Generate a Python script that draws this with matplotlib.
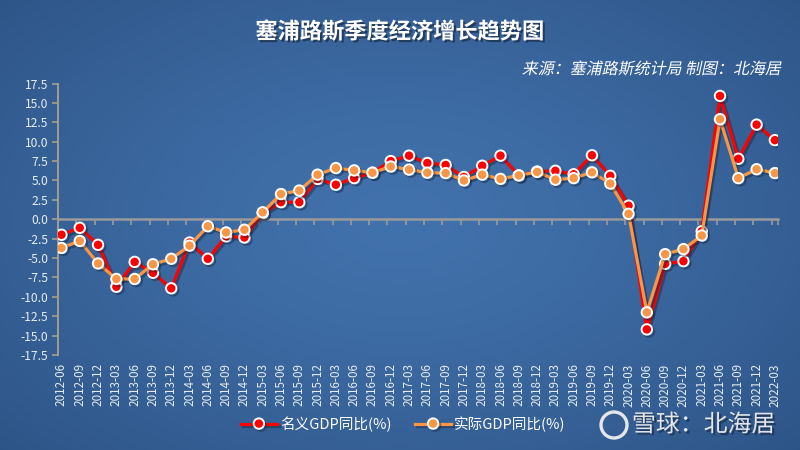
import numpy as np
import matplotlib
matplotlib.use('Agg')
import matplotlib.pyplot as plt
import matplotlib.patheffects as pe
from matplotlib.patches import Ellipse, PathPatch
from matplotlib.textpath import TextPath
from matplotlib.font_manager import FontProperties
from matplotlib.transforms import Affine2D

plt.rcParams['font.family'] = ['Noto Sans CJK SC', 'DejaVu Sans']

quarters = ['2012-06', '2012-09', '2012-12', '2013-03', '2013-06', '2013-09', '2013-12',
            '2014-03', '2014-06', '2014-09', '2014-12', '2015-03', '2015-06', '2015-09',
            '2015-12', '2016-03', '2016-06', '2016-09', '2016-12', '2017-03', '2017-06',
            '2017-09', '2017-12', '2018-03', '2018-06', '2018-09', '2018-12', '2019-03',
            '2019-06', '2019-09', '2019-12', '2020-03', '2020-06', '2020-09', '2020-12',
            '2021-03', '2021-06', '2021-09', '2021-12', '2022-03']
nominal = [-2.0, -1.1, -3.3, -8.7, -5.5, -6.9, -8.9, -3.0, -5.1, -2.2, -2.35, 0.8,
           2.2, 2.2, 5.2, 4.45, 5.3, 6.0, 7.5, 8.2, 7.25, 7.0, 5.45, 6.9, 8.2, 5.65,
           6.15, 6.25, 5.8, 8.25, 5.6, 1.75, -14.2, -5.75, -5.4, -1.55, 15.9, 7.8, 12.2, 10.2]
real = [-3.7, -2.8, -5.7, -7.7, -7.7, -5.8, -5.1, -3.4, -0.9, -1.7, -1.35, 0.9,
        3.25, 3.7, 5.75, 6.6, 6.3, 6.0, 6.8, 6.4, 6.0, 5.95, 5.0, 5.75, 5.2, 5.65,
        6.1, 5.1, 5.3, 6.05, 4.6, 0.7, -12.0, -4.5, -3.85, -2.1, 12.9, 5.3, 6.45, 5.95]
yticks = [-17.5, -15.0, -12.5, -10.0, -7.5, -5.0, -2.5, 0.0, 2.5, 5.0, 7.5, 10.0, 12.5, 15.0, 17.5]
series_labels = ['名义GDP同比(%)', '实际GDP同比(%)']
title = '塞浦路斯季度经济增长趋势图'
subtitle = '来源：塞浦路斯统计局 制图：北海居'
watermark = '雪球：北海居'

fig = plt.figure(figsize=(8, 4.5), dpi=100)

# background radial gradient
bg = fig.add_axes([0, 0, 1, 1], zorder=0)
H, W = 450, 800
yy, xx = np.mgrid[0:H, 0:W]
d = np.sqrt(((xx - 400) / 560) ** 2 + ((yy - 220) / 340) ** 2)
d = np.clip(d, 0, 1) ** 1.3
c0 = np.array([66, 114, 172]) / 255
c1 = np.array([45, 84, 135]) / 255
img = c0[None, None, :] * (1 - d[..., None]) + c1[None, None, :] * d[..., None]
bg.imshow(img, aspect='auto', extent=[0, 1, 0, 1], origin='upper')
bg.axis('off')

ax = fig.add_axes([0.0725, 0.2111, 0.9, 0.6033], zorder=1)
ax.patch.set_alpha(0)

x = np.arange(len(quarters))
shadow = [pe.SimpleLineShadow(offset=(1.5, -1.5), shadow_color='#14253d', alpha=0.45), pe.Normal()]
ax.plot(x, nominal, color='#ff0000', lw=2.3, marker='o', ms=7.5, mfc='#ff0000',
        mec='white', mew=1.4, path_effects=shadow, label=series_labels[0], zorder=3)
ax.plot(x, real, color='#f79646', lw=2.3, marker='o', ms=7.5, mfc='#f79646',
        mec='white', mew=1.4, path_effects=shadow, label=series_labels[1], zorder=4)

ax.set_ylim(-17.5, 17.5)
ax.set_xlim(-0.19, 39.17)
ax.set_yticks(yticks)
ax.set_yticklabels([f'{v:.1f}' for v in yticks])
ax.set_xticks(x)
ax.set_xticklabels(quarters, rotation=90)

for s in ['top', 'right', 'bottom']:
    ax.spines[s].set_visible(False)
ax.spines['left'].set_color('#a59d8c')
ax.spines['left'].set_linewidth(1.4)
ax.tick_params(axis='y', colors='#a59d8c', length=4, width=1.2, labelcolor='#e6ecf4',
               labelsize=8.7, pad=3)
ax.tick_params(axis='x', length=0, labelcolor='#e6ecf4', labelsize=8.4, pad=6)

sec = ax.secondary_xaxis(0.5)
sec_ticks = [i - 0.18 for i in range(1, len(quarters))] + [39.17]
sec.set_xticks(sec_ticks)
sec.tick_params(direction='in', length=4, width=1.2, color='#9a9a9a',
                labeltop=False, labelbottom=False)
for s in ['top', 'bottom']:
    sec.spines[s].set_color('#9a9a9a')
    sec.spines[s].set_linewidth(1.8)

leg = fig.legend(loc='center', bbox_to_anchor=(0.504, 0.058), ncol=2, frameon=False,
                 fontsize=10.5, labelcolor='white', handlelength=2.5, handletextpad=0.2,
                 columnspacing=1.6)

dark_shadow = [pe.withSimplePatchShadow(offset=(1.5, -1.5), shadow_rgbFace='#1a2b44', alpha=0.7)]
fig.text(0.5, 1 - 32 / 450, title, ha='center', va='center', fontsize=16,
         fontweight='bold', color='white', path_effects=dark_shadow)

# italic (slanted) subtitle
fp = FontProperties(family='Noto Sans CJK SC')
tp = TextPath((0, 0), subtitle, size=11.5, prop=fp)
ext = tp.get_extents()
right_in = 782 / 100
base_in = (450 - 74) / 100
tr = (Affine2D().skew_deg(12, 0).translate(-ext.x1 - 1.5, 0).scale(1 / 72)
      .translate(right_in, base_in) + fig.dpi_scale_trans)
fig.add_artist(PathPatch(tp, transform=tr, facecolor='white', edgecolor='none', lw=0))

fig.text(0.969, 1 - 425 / 450, watermark, ha='right', va='center', fontsize=17.2,
         color='#e4e6ea', path_effects=dark_shadow)
logo = Ellipse((614 / 800, 1 - 425 / 450), 26 / 800, 26 / 450, transform=fig.transFigure,
               facecolor='none', edgecolor='#e4e6ea', lw=2.4, zorder=5)
fig.add_artist(logo)

fig.savefig('out.png', dpi=100)
